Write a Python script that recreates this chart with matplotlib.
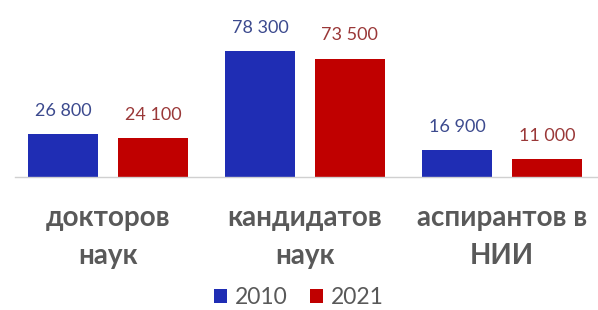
import matplotlib.pyplot as plt
import numpy as np

# данные
categories = ["докторов\nнаук", "кандидатов\nнаук", "аспирантов в\nНИИ"]
years = ["2010", "2021"]
values_2010 = [26800, 78300, 16900]
values_2021 = [24100, 73500, 11000]
labels_2010 = ["26 800", "78 300", "16 900"]
labels_2021 = ["24 100", "73 500", "11 000"]

blue = '#1F2DB4'
red = '#C00000'
blue_txt = '#3C4A8E'
red_txt = '#9A3838'
grey = '#595959'

plt.rcParams['font.family'] = ['Lato', 'DejaVu Sans']

fig = plt.figure(figsize=(5.98, 3.10), dpi=100)
ax = fig.add_axes([0.025, 0.429, 0.975, 0.506])

x = np.arange(len(categories))
w = 0.355
off = 0.228
b1 = ax.bar(x - off, values_2010, w, color=blue, label=years[0])
b2 = ax.bar(x + off, values_2021, w, color=red, label=years[1])

for rect, t in zip(b1, labels_2010):
    ax.annotate(t, (rect.get_x() + rect.get_width() / 2, rect.get_height()),
                xytext=(0, 11), textcoords='offset points', ha='center', va='bottom',
                fontsize=13, color=blue_txt)
for rect, t in zip(b2, labels_2021):
    ax.annotate(t, (rect.get_x() + rect.get_width() / 2, rect.get_height()),
                xytext=(0, 11), textcoords='offset points', ha='center', va='bottom',
                fontsize=13, color=red_txt)

ax.set_xlim(-0.472, 2.487)
ax.set_ylim(0, 97500)
ax.set_yticks([])
ax.set_xticks(x)
ax.set_xticklabels(categories, fontsize=20, fontweight='bold', color=grey, linespacing=1.6)
ax.tick_params(axis='x', length=0, pad=20)
for s in ['top', 'right', 'left']:
    ax.spines[s].set_visible(False)
ax.spines['bottom'].set_color('#D0D0D0')
ax.spines['bottom'].set_linewidth(1.0)

fig.legend(loc='lower center', bbox_to_anchor=(0.5, -0.06), ncol=2, frameon=False,
           fontsize=16.5, labelcolor=grey, handlelength=0.57, handleheight=0.57,
           handletextpad=0.35, columnspacing=0.95)

fig.savefig("out.png", dpi=100)
